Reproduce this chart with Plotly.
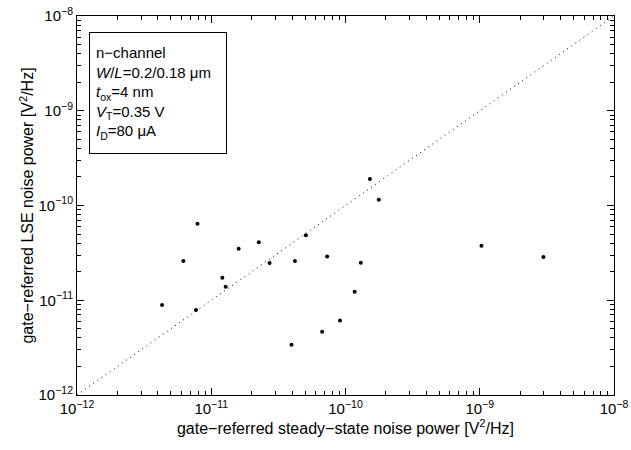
import plotly.graph_objects as go

# measured noise powers [V^2/Hz]
steady_state = [4.3e-12, 6.2e-12, 7.9e-12, 7.7e-12, 1.21e-11, 1.28e-11, 1.6e-11,
                2.26e-11, 2.72e-11, 4.2e-11, 5.07e-11, 7.3e-11, 3.96e-11, 6.7e-11,
                9.1e-11, 1.17e-10, 1.3e-10, 1.52e-10, 1.77e-10, 1.03e-9, 2.98e-9]
lse = [8.9e-12, 2.6e-11, 6.4e-11, 7.9e-12, 1.73e-11, 1.39e-11, 3.5e-11,
       4.1e-11, 2.47e-11, 2.6e-11, 4.84e-11, 2.9e-11, 3.4e-12, 4.66e-12,
       6.1e-12, 1.23e-11, 2.49e-11, 1.9e-10, 1.15e-10, 3.77e-11, 2.86e-11]

diag = [1e-12, 1e-8]
tick_vals = [1e-12, 1e-11, 1e-10, 1e-9, 1e-8]
tick_text = ["10<sup>−12</sup>", "10<sup>−11</sup>", "10<sup>−10</sup>",
             "10<sup>−9</sup>", "10<sup>−8</sup>"]
minor_vals = [k * 10.0 ** e for e in range(-12, -8) for k in range(2, 10)]

fig = go.Figure()
fig.add_trace(go.Scatter(x=diag, y=diag, mode="lines",
                         line=dict(color="black", width=1, dash="1px,4px"),
                         hoverinfo="skip"))
fig.add_trace(go.Scatter(x=steady_state, y=lse, mode="markers",
                         marker=dict(color="black", size=4)))

axis_common = dict(
    type="log", tickvals=tick_vals, ticktext=tick_text, automargin=False,
    ticks="inside", ticklen=7, tickcolor="black", mirror="allticks",
    showline=True, linecolor="black", linewidth=1, showgrid=False,
    zeroline=False, tickfont=dict(size=15, color="black"),
    ticklabeloverflow="allow",
    minor=dict(ticks="inside", ticklen=4, tickcolor="black",
               tickvals=minor_vals, showgrid=False),
)

fig.update_xaxes(range=[-12, -8],
                 title=dict(text="gate−referred steady−state noise power [V<sup>2</sup>/Hz]",
                            font=dict(size=16, color="black"), standoff=3),
                 **axis_common)
fig.update_yaxes(range=[-12, -8],
                 title=dict(text="gate−referred LSE noise power [V<sup>2</sup>/Hz]",
                            font=dict(size=16, color="black"), standoff=0),
                 **axis_common)

fig.add_annotation(
    xref="paper", yref="paper", x=0.023, y=0.958, xanchor="left", yanchor="top",
    text=("n−channel<br><i>W</i>/<i>L</i>=0.2/0.18 μm<br><i>t</i><sub>ox</sub>=4 nm"
          "<br><i>V</i><sub>T</sub>=0.35 V<br><i>I</i><sub>D</sub>=80 μA"),
    align="left", showarrow=False, bordercolor="black", borderwidth=1,
    borderpad=6, width=124, height=108, bgcolor="white",
    font=dict(size=15, color="black"),
)

fig.update_layout(
    width=631, height=450, showlegend=False,
    margin=dict(l=77, r=17, t=16, b=55),
    plot_bgcolor="white", paper_bgcolor="white",
    font=dict(family="Liberation Sans, Arial, sans-serif", color="black"),
)

# drop the default page margin so the figure sits at the window corner
fig.write_html("out.html", config={"displayModeBar": False},
               post_script="document.body.style.margin='0';")
